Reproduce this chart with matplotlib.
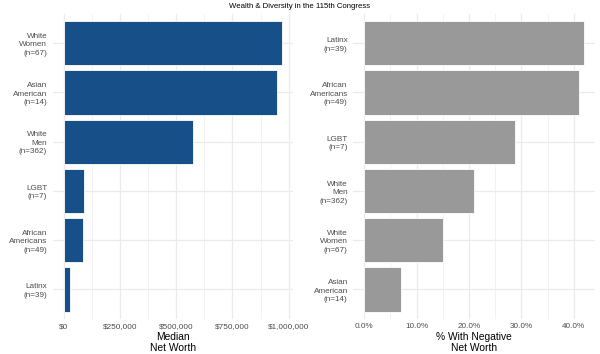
import matplotlib
matplotlib.use("Agg")
import matplotlib.pyplot as plt
from matplotlib.ticker import FuncFormatter, MultipleLocator

plt.rcParams['font.family'] = ['Liberation Sans', 'DejaVu Sans']

# Left panel: median net worth (top to bottom)
wealth_groups = ["White\nWomen\n(n=67)", "Asian\nAmerican\n(n=14)", "White\nMen\n(n=362)",
                 "LGBT\n(n=7)", "African\nAmericans\n(n=49)", "Latinx\n(n=39)"]
median_worth = [972000, 946000, 577000, 90000, 88000, 28000]

# Right panel: % with negative net worth (top to bottom)
neg_groups = ["Latinx\n(n=39)", "African\nAmericans\n(n=49)", "LGBT\n(n=7)",
              "White\nMen\n(n=362)", "White\nWomen\n(n=67)", "Asian\nAmerican\n(n=14)"]
pct_negative = [42.0, 41.0, 28.8, 21.0, 15.0, 7.0]

W, H = 600, 354
fig = plt.figure(figsize=(6.0, 3.54), dpi=100)
fig.patch.set_facecolor("white")

def px_axes(x0, x1, y0, y1):
    return fig.add_axes([x0 / W, 1 - y1 / H, (x1 - x0) / W, (y1 - y0) / H])

ax1 = px_axes(52.7, 293.3, 13.7, 319)
ax2 = px_axes(353.3, 595.3, 13.7, 319)

def style(ax, values, labels, color, major, fmt, xlabel):
    n = len(values)
    ypos = list(range(n))[::-1]
    ax.barh(ypos, values, height=0.9, color=color, edgecolor="white", linewidth=0.6, zorder=3)
    vmax = max(values)
    ax.set_xlim(-0.05 * vmax, vmax * 1.05)
    ax.set_ylim(-0.6, n - 1 + 0.6)
    ax.set_yticks(ypos)
    ax.set_yticklabels(labels, fontsize=5.9, color="#4d4d4d", ha="right",
                       multialignment="right", linespacing=1.3)
    ax.xaxis.set_major_locator(MultipleLocator(major))
    ax.xaxis.set_minor_locator(MultipleLocator(major / 2))
    ax.xaxis.set_major_formatter(FuncFormatter(fmt))
    ax.tick_params(axis="x", labelsize=5.9, labelcolor="#4d4d4d", length=0, pad=3)
    ax.tick_params(axis="y", length=0, pad=4)
    ax.tick_params(which="minor", length=0)
    ax.grid(True, which="major", color="#ebebeb", linewidth=0.9, zorder=0)
    ax.grid(True, which="minor", axis="x", color="#ebebeb", linewidth=0.45, zorder=0)
    for s in ax.spines.values():
        s.set_visible(False)
    ax.set_facecolor("white")
    ax.set_xlabel(xlabel, fontsize=7.4, color="black", labelpad=1.5, linespacing=1.05)

style(ax1, median_worth, wealth_groups, "#175089", 250000,
      lambda v, p: "${:,.0f}".format(v), "Median\nNet Worth")
style(ax2, pct_negative, neg_groups, "#999999", 10,
      lambda v, p: "{:.1f}%".format(v), "% With Negative\nNet Worth")

fig.text(0.5, 1 - 6 / H, "Wealth & Diversity in the 115th Congress", ha="center", va="center",
         fontsize=5.6, color="black")

fig.savefig("out.png", dpi=100)
